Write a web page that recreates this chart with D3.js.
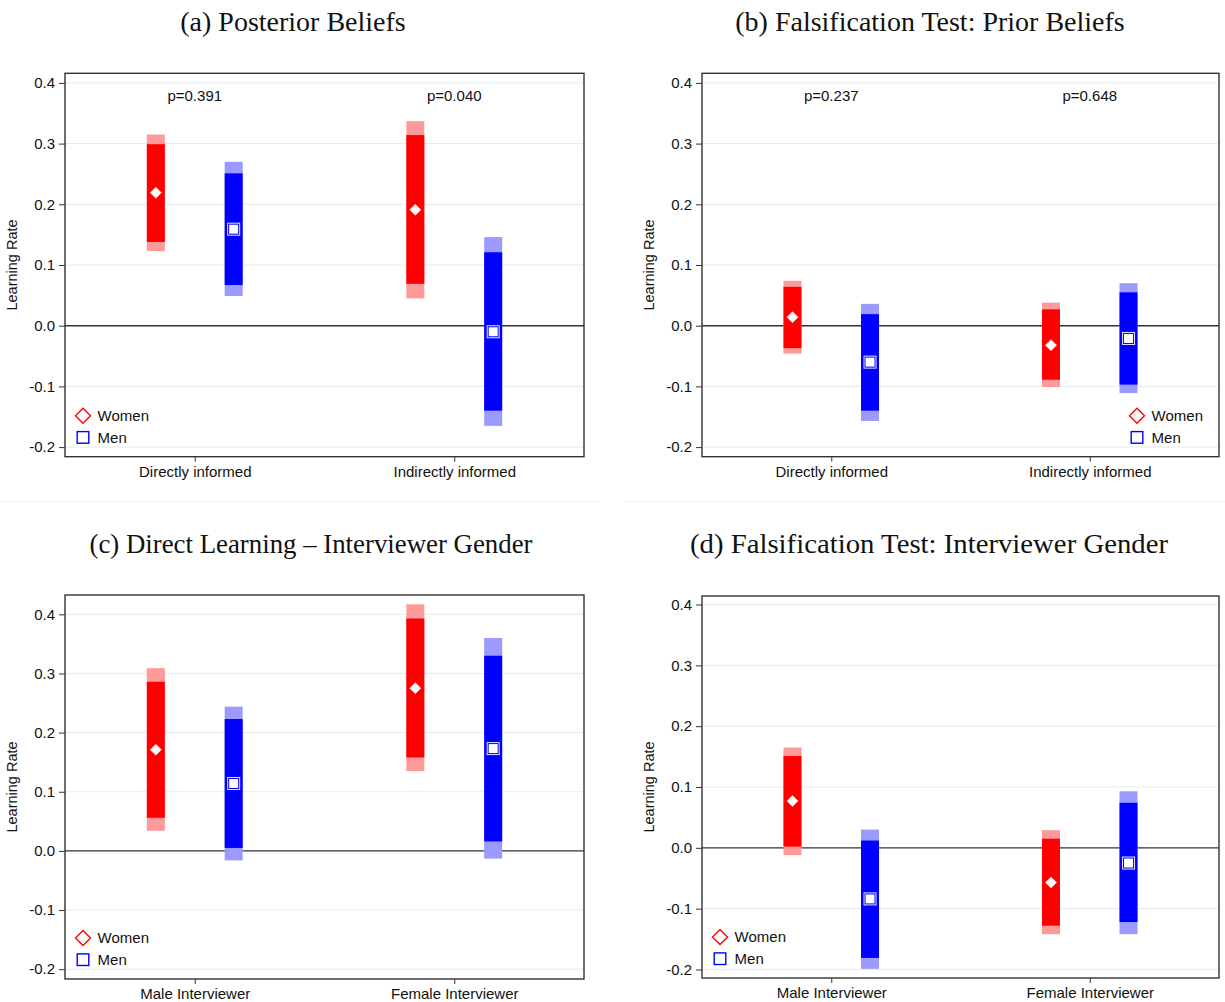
<!DOCTYPE html>
<html>
<head>
<meta charset="utf-8">
<script src="https://cdn.jsdelivr.net/npm/d3@7"></script>
<style>
  html, body { margin: 0; padding: 0; background: #fff; }
  svg { display: block; }
  .tick text { font-family: "Liberation Sans", Arial, sans-serif; font-size: 15px; fill: #111; }
</style>
</head>
<body>
<svg id="chart" width="1225" height="1002"></svg>
<script>
// Group labels and series
const topCategories = ["Directly informed", "Indirectly informed"];
const bottomCategories = ["Male Interviewer", "Female Interviewer"];
const seriesNames = ["Women", "Men"];
const yTickValues = [-0.2, -0.1, 0.0, 0.1, 0.2, 0.3, 0.4];

// Each row: [estimate, lo90, hi90, lo95, hi95], one row per category
// (a) Posterior beliefs
const posteriorWomen = [[0.219, 0.138, 0.299, 0.123, 0.315], [0.191, 0.069, 0.314, 0.045, 0.337]];
const posteriorMen   = [[0.159, 0.067, 0.251, 0.049, 0.270], [-0.010, -0.140, 0.121, -0.165, 0.146]];
const posteriorP     = ["p=0.391", "p=0.040"];

// (b) Falsification test: prior beliefs
const priorWomen = [[0.014, -0.037, 0.064, -0.046, 0.074], [-0.032, -0.089, 0.027, -0.101, 0.038]];
const priorMen   = [[-0.060, -0.140, 0.019, -0.157, 0.036], [-0.021, -0.097, 0.055, -0.111, 0.070]];
const priorP     = ["p=0.237", "p=0.648"];

// (c) Direct learning by interviewer gender
const directWomen = [[0.171, 0.056, 0.286, 0.034, 0.309], [0.275, 0.158, 0.393, 0.135, 0.417]];
const directMen   = [[0.114, 0.005, 0.223, -0.016, 0.244], [0.173, 0.016, 0.330, -0.013, 0.360]];

// (d) Falsification test: interviewer gender
const falsWomen = [[0.077, 0.002, 0.151, -0.012, 0.165], [-0.057, -0.128, 0.015, -0.142, 0.029]];
const falsMen   = [[-0.084, -0.181, 0.012, -0.199, 0.030], [-0.025, -0.122, 0.074, -0.142, 0.093]];

const colors = {
  Women: { dark: "#ff0000", light: "#ff9a9a" },
  Men:   { dark: "#0000ff", light: "#9a9aff" }
};

const panels = [
  { title: "(a) Posterior Beliefs", tx: 293, ty: 31, tlen: null,
    x0: 65, x1: 584, y0: 73.3, y1: 456.7, dom: [-0.2158, 0.4158],
    cats: topCategories, women: posteriorWomen, men: posteriorMen, pvals: posteriorP, legend: "left" },
  { title: "(b) Falsification Test: Prior Beliefs", tx: 930, ty: 31, tlen: null,
    x0: 702, x1: 1219, y0: 73.3, y1: 456.7, dom: [-0.2158, 0.4158],
    cats: topCategories, women: priorWomen, men: priorMen, pvals: priorP, legend: "right" },
  { title: "(c) Direct Learning \u2013 Interviewer Gender", tx: 311, ty: 553, tlen: 443,
    x0: 65, x1: 584, y0: 595, y1: 979, dom: [-0.2166, 0.4327],
    cats: bottomCategories, women: directWomen, men: directMen, pvals: null, legend: "left" },
  { title: "(d) Falsification Test: Interviewer Gender", tx: 929, ty: 553, tlen: 478,
    x0: 702, x1: 1219, y0: 596, y1: 978, dom: [-0.214, 0.414],
    cats: bottomCategories, women: falsWomen, men: falsMen, pvals: null, legend: "left" }
];

const svg = d3.select("#chart");
const sans = "'Liberation Sans', Arial, sans-serif";

// faint rules separating the upper and lower figures
svg.append("line").attr("x1", 0).attr("x2", 600).attr("y1", 501.5).attr("y2", 501.5)
  .attr("stroke", "#eeeeee").attr("stroke-width", 1);
svg.append("line").attr("x1", 624).attr("x2", 1225).attr("y1", 501.5).attr("y2", 501.5)
  .attr("stroke", "#eeeeee").attr("stroke-width", 1);

panels.forEach(p => {
  const g = svg.append("g");
  const y = d3.scaleLinear().domain(p.dom).range([p.y1, p.y0]);
  const x = d3.scalePoint().domain(p.cats).range([p.x0, p.x1]).padding(0.5);
  const off = 0.075 * (p.x1 - p.x0);
  const xs = d3.scalePoint().domain(seriesNames).range([-off, off]);
  const barW = 18;

  // title
  const t = g.append("text").attr("x", p.tx).attr("y", p.ty).attr("text-anchor", "middle")
    .attr("font-family", "'Liberation Serif', 'Times New Roman', serif")
    .attr("font-size", 28).attr("fill", "#111").text(p.title);
  if (p.tlen) t.attr("textLength", p.tlen).attr("lengthAdjust", "spacingAndGlyphs");

  // gridlines
  g.selectAll("line.grid").data(yTickValues.filter(v => v !== 0)).enter().append("line")
    .attr("x1", p.x0).attr("x2", p.x1)
    .attr("y1", d => y(d)).attr("y2", d => y(d))
    .attr("stroke", "#e4eced").attr("stroke-width", 1);

  // zero reference line
  g.append("line").attr("x1", p.x0).attr("x2", p.x1)
    .attr("y1", y(0)).attr("y2", y(0))
    .attr("stroke", "#333").attr("stroke-width", 1.4);

  // y axis
  const yAxis = g.append("g").attr("transform", `translate(${p.x0},0)`)
    .call(d3.axisLeft(y).tickValues(yTickValues).tickFormat(d => d.toFixed(1)).tickSize(6).tickPadding(4));
  yAxis.select(".domain").remove();
  yAxis.selectAll(".tick line").attr("stroke", "#333");

  // x axis
  const xAxis = g.append("g").attr("transform", `translate(0,${p.y1})`)
    .call(d3.axisBottom(x).tickSize(5).tickPadding(4.5));
  xAxis.select(".domain").remove();
  xAxis.selectAll(".tick line").attr("stroke", "#333");

  // y axis title
  const yc = (p.y0 + p.y1) / 2;
  g.append("text").attr("transform", `translate(${p.x0 - 48},${yc}) rotate(-90)`)
    .attr("text-anchor", "middle").attr("font-family", sans).attr("font-size", 14.5)
    .attr("fill", "#111").text("Learning Rate");

  // confidence bars and point estimates
  const rows = [];
  p.cats.forEach((c, i) => {
    rows.push({ cat: c, s: "Women", v: p.women[i] });
    rows.push({ cat: c, s: "Men", v: p.men[i] });
  });

  rows.forEach(r => {
    const cx = x(r.cat) + xs(r.s);
    const [est, lo90, hi90, lo95, hi95] = r.v;
    g.append("rect").attr("x", cx - barW / 2).attr("width", barW)
      .attr("y", y(hi95)).attr("height", y(lo95) - y(hi95))
      .attr("fill", colors[r.s].light);
    g.append("rect").attr("x", cx - barW / 2).attr("width", barW)
      .attr("y", y(hi90)).attr("height", y(lo90) - y(hi90))
      .attr("fill", colors[r.s].dark);
    if (r.s === "Women") {
      const s = 5.5;
      g.append("path")
        .attr("d", `M${cx},${y(est) - s}L${cx + s},${y(est)}L${cx},${y(est) + s}L${cx - s},${y(est)}Z`)
        .attr("fill", "#fff").attr("stroke", "#ffd0d0").attr("stroke-width", 0.8);
    } else {
      g.append("rect").attr("x", cx - 6).attr("y", y(est) - 6).attr("width", 12).attr("height", 12)
        .attr("fill", "none").attr("stroke", "#e6e6ff").attr("stroke-width", 1);
      g.append("rect").attr("x", cx - 4.5).attr("y", y(est) - 4.5).attr("width", 9).attr("height", 9)
        .attr("fill", "#fff");
    }
  });

  // p-values above each group
  if (p.pvals) {
    g.selectAll("text.pval").data(p.cats).enter().append("text")
      .attr("x", d => x(d)).attr("y", p.y0 + 27.5)
      .attr("text-anchor", "middle").attr("font-family", sans).attr("font-size", 15)
      .attr("fill", "#111").text((d, i) => p.pvals[i]);
  }

  // frame
  g.append("rect").attr("x", p.x0).attr("y", p.y0)
    .attr("width", p.x1 - p.x0).attr("height", p.y1 - p.y0)
    .attr("fill", "none").attr("stroke", "#333").attr("stroke-width", 1.4);

  // legend
  const lx = p.legend === "left" ? p.x0 + 18 : p.x1 - 82;
  const ly1 = p.y1 - 41, ly2 = p.y1 - 19.3;
  const leg = g.append("g");
  leg.append("path")
    .attr("d", `M${lx},${ly1 - 7.5}L${lx + 7.5},${ly1}L${lx},${ly1 + 7.5}L${lx - 7.5},${ly1}Z`)
    .attr("fill", "none").attr("stroke", colors.Women.dark).attr("stroke-width", 1.4);
  leg.append("rect").attr("x", lx - 5.8).attr("y", ly2 - 5.8).attr("width", 11.6).attr("height", 11.6)
    .attr("fill", "none").attr("stroke", colors.Men.dark).attr("stroke-width", 1.4);
  leg.append("text").attr("x", lx + 14.6).attr("y", ly1).attr("dy", "0.35em")
    .attr("font-family", sans).attr("font-size", 15).attr("fill", "#111").text(seriesNames[0]);
  leg.append("text").attr("x", lx + 14.6).attr("y", ly2).attr("dy", "0.35em")
    .attr("font-family", sans).attr("font-size", 15).attr("fill", "#111").text(seriesNames[1]);
});
</script>
</body>
</html>
